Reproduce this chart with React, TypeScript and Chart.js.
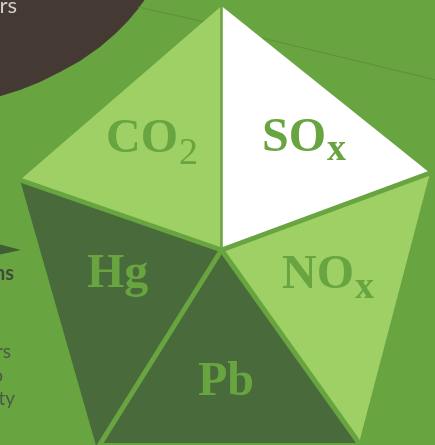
import React, { useEffect, useRef } from "react";
import { Chart, registerables } from "chart.js";
Chart.register(...registerables);

const W = 435;
const H = 445;

const BG = "#68a440";
const LIGHT = "#9fd066";
const DARK = "#496a3a";
const WHITE = "#ffffff";
const BROWN = "#453a33";
const LABEL = "#68a440";
const FAINT = "#5b9238";
const ARROW = "#3f5e33";

// Triangles of the pentagon (CO2, SOx, NOx, Pb, Hg)
const co2Points = [{ x: 221.5, y: 6 }, { x: 20, y: 180 }, { x: 221.5, y: 250 }];
const soxPoints = [{ x: 221.5, y: 6 }, { x: 430, y: 173 }, { x: 221.5, y: 250 }];
const noxPoints = [{ x: 221.5, y: 250 }, { x: 430, y: 173 }, { x: 359, y: 443 }];
const pbPoints = [{ x: 221.5, y: 250 }, { x: 359, y: 443 }, { x: 98, y: 443 }];
const hgPoints = [{ x: 221.5, y: 250 }, { x: 97, y: 449 }, { x: 20, y: 180 }];

const triangleColors = [LIGHT, WHITE, LIGHT, DARK, DARK];

// separators from the centre to each outer corner
const centerPoint = { x: 221.5, y: 250 };
const separatorEnds = [
  { x: 221.5, y: 6 },
  { x: 430, y: 173 },
  { x: 359, y: 443 },
  { x: 97, y: 449 },
  { x: 20, y: 180 },
];
const separatorWidths = [2.5, 5, 5, 5, 5];

// background decoration
const swooshPoints = [
  { x: -2, y: -2 },
  { x: -2, y: 97 },
  { x: 20, y: 90 },
  { x: 40, y: 82 },
  { x: 60, y: 72 },
  { x: 80, y: 61 },
  { x: 100, y: 47 },
  { x: 115, y: 34 },
  { x: 128, y: 21 },
  { x: 138, y: 9 },
  { x: 146, y: -2 },
];
const faintLine1 = [{ x: 138, y: 7 }, { x: 205, y: 22 }];
const faintLine2 = [{ x: 262, y: 38 }, { x: 436, y: 80 }];
const arrowPoints = [{ x: -2, y: 244 }, { x: 21, y: 250 }, { x: -2, y: 255 }];

// labels
const labelMain = ["CO", "SO", "NO", "Hg", "Pb"];
const labelSub = ["2", "x", "x", "", ""];
const labelX = [106, 262, 282, 87, 198];
const labelY = [152, 151, 288, 287, 395];
const labelSubDrop = [12, 9, 10, 0, 0];

// clipped side texts
const sideTexts = ["rs", "ns", "rs", "o", "ty"];
const sideX = [17, 14, 11, 3, 15];
const sideY = [13, 280, 358, 382, 405];
const sideFonts = [
  "22px Lato",
  "bold 20px Lato",
  "19px Lato",
  "19px Lato",
  "19px Lato",
];
const sideColors = ["#d2cec8", "#3e4a3a", "#4b5a45", "#4b5a45", "#4b5a45"];

const closed = (pts: { x: number; y: number }[]) => [...pts, pts[0]];

const labelPlugin = {
  id: "labels",
  afterDatasetsDraw(chart: any) {
    const { ctx } = chart;
    const xs = chart.scales.x;
    const ys = chart.scales.y;
    ctx.save();
    ctx.textBaseline = "alphabetic";
    ctx.textAlign = "left";
    for (let i = 0; i < labelMain.length; i++) {
      const px = xs.getPixelForValue(labelX[i]);
      const py = ys.getPixelForValue(labelY[i]);
      ctx.fillStyle = LABEL;
      ctx.font = "bold 48px 'Liberation Serif'";
      ctx.fillText(labelMain[i], px, py);
      const w = ctx.measureText(labelMain[i]).width;
      if (labelSub[i]) {
        ctx.font = (labelSub[i] === "2" ? "" : "bold ") + "38px 'Liberation Serif'";
        ctx.fillText(labelSub[i], px + w + 1, py + labelSubDrop[i]);
      }
    }
    ctx.textAlign = "right";
    for (let i = 0; i < sideTexts.length; i++) {
      ctx.font = sideFonts[i];
      ctx.fillStyle = sideColors[i];
      ctx.fillText(sideTexts[i], xs.getPixelForValue(sideX[i]), ys.getPixelForValue(sideY[i]));
    }
    ctx.restore();
  },
};

export default function App() {
  const ref = useRef<HTMLCanvasElement | null>(null);
  useEffect(() => {
    if (!ref.current) return;
    const shape = (pts: any[], color: string) => ({
      data: closed(pts),
      showLine: true,
      fill: "shape",
      backgroundColor: color,
      borderColor: color,
      borderWidth: 0,
      pointRadius: 0,
      tension: 0,
    });
    const line = (pts: any[], color: string, width: number) => ({
      data: pts,
      showLine: true,
      fill: false,
      borderColor: color,
      backgroundColor: color,
      borderWidth: width,
      pointRadius: 0,
    });
    const datasets: any[] = [
      shape(swooshPoints, BROWN),
      line(faintLine1, FAINT, 1),
      line(faintLine2, FAINT, 1),
      shape(arrowPoints, ARROW),
      shape(co2Points, triangleColors[0]),
      shape(soxPoints, triangleColors[1]),
      shape(noxPoints, triangleColors[2]),
      shape(pbPoints, triangleColors[3]),
      shape(hgPoints, triangleColors[4]),
      ...separatorEnds.map((p, i) => line([centerPoint, p], BG, separatorWidths[i])),
    ];
    // draw the first dataset at the bottom
    datasets.forEach((d, i) => (d.order = datasets.length - i));
    const chart = new Chart(ref.current, {
      type: "scatter",
      data: { datasets },
      options: {
        animation: false,
        responsive: false,
        maintainAspectRatio: false,
        layout: { padding: 0 },
        events: [],
        scales: {
          x: { type: "linear", min: 0, max: W, display: false },
          y: { type: "linear", min: 0, max: H, reverse: true, display: false },
        },
        plugins: {
          legend: { display: false },
          tooltip: { enabled: false },
          filler: { drawTime: "beforeDatasetDraw" },
        },
      } as any,
      plugins: [labelPlugin],
    });
    return () => chart.destroy();
  }, []);
  return (
    <div style={{ position: "absolute", left: 0, top: 0, width: W, height: H, background: BG }}>
      <canvas ref={ref} width={W} height={H} style={{ display: "block", width: W, height: H }} />
    </div>
  );
}
